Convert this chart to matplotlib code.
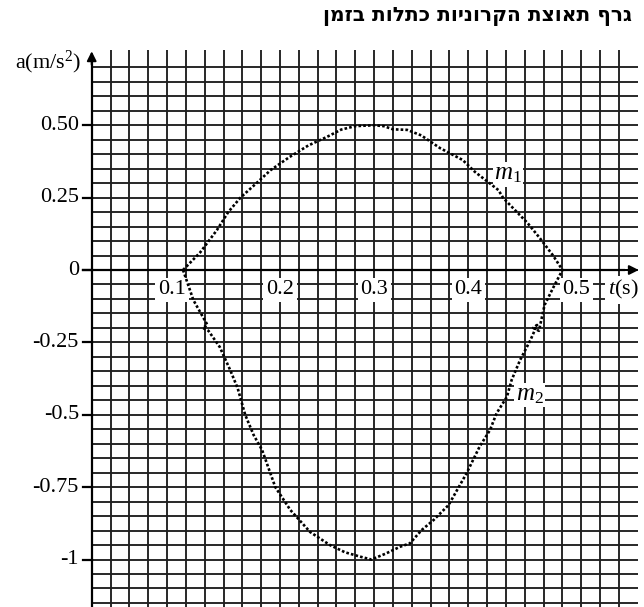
import numpy as np
import matplotlib.pyplot as plt

plt.rcParams['mathtext.fontset'] = 'custom'
plt.rcParams['mathtext.rm'] = 'Liberation Serif'
plt.rcParams['mathtext.it'] = 'Liberation Serif:italic'

title = "גרף תאוצת הקרוניות כתלות בזמן"

# measured acceleration of each cart (t in s, a in m/s^2)
m1_t = [0.097, 0.115, 0.133, 0.145, 0.158, 0.175, 0.190, 0.210, 0.230, 0.250, 0.265,
        0.280, 0.300, 0.310, 0.320, 0.335, 0.350, 0.370, 0.394, 0.407, 0.432, 0.437,
        0.463, 0.476, 0.490, 0.500]
m1_a = [0.0, 0.06, 0.138, 0.20, 0.25, 0.30, 0.345, 0.39, 0.43, 0.46, 0.485,
        0.497, 0.50, 0.497, 0.486, 0.484, 0.465, 0.421, 0.38, 0.339, 0.276, 0.249,
        0.162, 0.11, 0.05, 0.0]

m2_t = [0.097, 0.108, 0.120, 0.123, 0.118, 0.124, 0.136, 0.147, 0.155, 0.163, 0.172,
        0.181, 0.195, 0.211, 0.232, 0.253, 0.269, 0.285, 0.297, 0.312, 0.3275, 0.338,
        0.3505, 0.363, 0.379, 0.386, 0.398, 0.412, 0.423, 0.430, 0.441, 0.446, 0.455,
        0.466, 0.473, 0.469, 0.475, 0.481, 0.490, 0.500]
m2_a = [0.0, -0.104, -0.173, -0.19, -0.20, -0.21, -0.266, -0.345, -0.408, -0.50, -0.57,
        -0.622, -0.75, -0.829, -0.905, -0.95, -0.975, -0.99, -1.0, -0.98, -0.956, -0.944,
        -0.898, -0.864, -0.812, -0.772, -0.703, -0.61, -0.553, -0.495, -0.438, -0.38, -0.311,
        -0.242, -0.19, -0.20, -0.21, -0.121, -0.062, 0.0]

y_ticks = [0.5, 0.25, 0, -0.25, -0.5, -0.75, -1]
y_labels = ["0.50", "0.25", "0", "-0.25", "-0.5", "-0.75", "-1"]
x_ticks = [0.1, 0.2, 0.3, 0.4, 0.5]
x_labels = ["0.1", "0.2", "0.3", "0.4", "0.5"]
x_align = ["right", "center", "center", "center", "left"]

fig = plt.figure(figsize=(6.44, 6.07), dpi=100)
ax = fig.add_axes([0, 0, 1, 1])
ax.set_xlim(-0.0974, 0.5866)
ax.set_ylim(-1.164, 0.9326)
ax.axis('off')

serif = 'Liberation Serif'
gc = '#202020'

# graph paper
ax.vlines(np.arange(0.02, 0.561, 0.02), -1.2, 0.76, color=gc, lw=1.35, zorder=1)
ax.hlines(np.arange(-1.15, 0.701, 0.05), 0, 0.58, color=gc, lw=1.35, zorder=1)

# axes with arrows
ax.plot([0, 0], [-1.2, 0.74], color='black', lw=1.6, zorder=2)
ax.plot([-0.009, 0.565], [0, 0], color='black', lw=1.6, zorder=2)
ax.annotate('', xy=(0, 0.765), xytext=(0, 0.70),
            arrowprops=dict(arrowstyle='-|>', color='black', lw=1.4, mutation_scale=14), zorder=3)
ax.annotate('', xy=(0.584, 0), xytext=(0.55, 0),
            arrowprops=dict(arrowstyle='-|>', color='black', lw=1.4, mutation_scale=14), zorder=3)

for v, lab in zip(y_ticks, y_labels):
    ax.plot([-0.009, 0], [v, v], color='black', lw=1.6, zorder=2)
    ax.text(-0.0135, v, lab, ha='right', va='center', fontsize=16, family=serif)

for v, lab, h in zip(x_ticks, x_labels, x_align):
    ax.text(v, -0.068, lab, ha=h, va='center', fontsize=16, family=serif, zorder=4,
            bbox=dict(boxstyle='square,pad=0.12', fc='white', ec='none'))
ax.text(0.548, -0.068, '$t$(s)', ha='left', va='center', fontsize=16, family=serif, zorder=4,
        bbox=dict(boxstyle='square,pad=0.12', fc='white', ec='none'))
ax.text(-0.0105, 0.718, 'a(m/s$^2$)', ha='right', va='center', fontsize=16, family=serif)

# the two carts
dots = (0, (1.0, 0.8))
ax.plot(m1_t, m1_a, color='black', ls=dots, lw=1.9, zorder=5)
ax.plot(m2_t, m2_a, color='black', ls=dots, lw=1.9, zorder=5)
ax.text(0.442, 0.33, '$m_1$', ha='center', va='center', fontsize=18, family=serif, zorder=4,
        bbox=dict(boxstyle='square,pad=0.05', fc='white', ec='none'))
ax.text(0.465, -0.432, '$m_2$', ha='center', va='center', fontsize=18, family=serif, zorder=4,
        bbox=dict(boxstyle='square,pad=0.05', fc='white', ec='none'))

fig.text(0.982, 0.972, title[::-1], ha='right', va='center', fontsize=14.5,
         fontweight='bold', family='DejaVu Sans')

fig.savefig('out.png', dpi=100)
